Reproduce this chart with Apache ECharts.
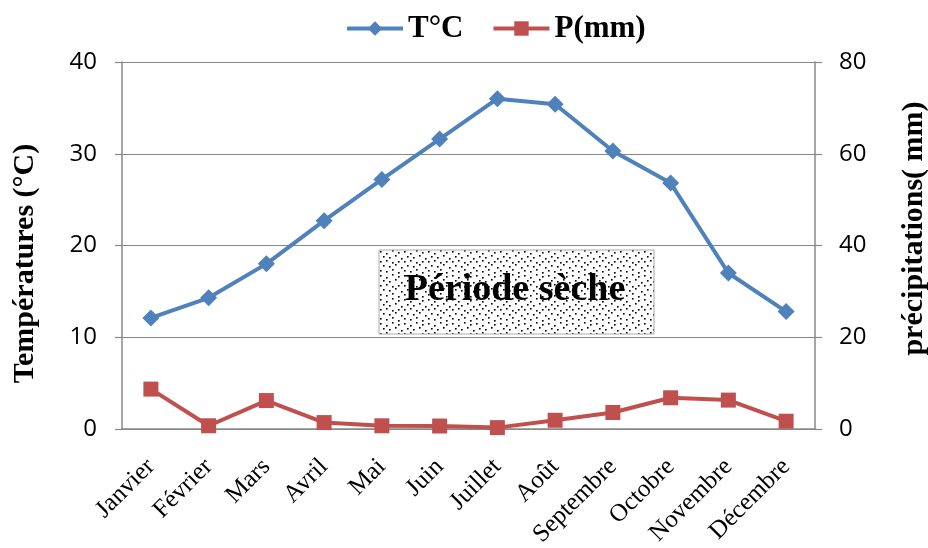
<!DOCTYPE html>
<html><head><meta charset="utf-8">
<script src="https://cdn.jsdelivr.net/npm/echarts@6/dist/echarts.min.js"></script>
<style>html,body{margin:0;padding:0;background:#fff}#c{width:928px;height:548px}</style>
</head><body><div id="c"></div>
<script>
const months = ['Janvier','Février','Mars','Avril','Mai','Juin','Juillet','Août','Septembre','Octobre','Novembre','Décembre'];
const temperature = [12.1, 14.3, 18.0, 22.7, 27.2, 31.6, 36.0, 35.4, 30.3, 26.8, 17.0, 12.8];
const precipitation = [8.7, 0.7, 6.2, 1.4, 0.7, 0.65, 0.3, 1.9, 3.6, 6.8, 6.3, 1.7];
const leftTicks = [0, 10, 20, 30, 40];
const rightTicks = [0, 20, 40, 60, 80];

// dotted pattern for the "Période sèche" box
const pc = document.createElement('canvas');
pc.width = 24; pc.height = 24;
const pctx = pc.getContext('2d');
pctx.fillStyle = '#fff'; pctx.fillRect(0,0,24,24);
pctx.fillStyle = '#000';
const dots = [[1,1],[7,3],[13,0],[19,2],[4,6],[10,7],[16,5],[22,8],[1,11],[7,10],[13,12],[19,11],[4,15],[10,16],[16,14],[22,17],[1,20],[7,21],[13,19],[19,22]];
dots.forEach(d => pctx.fillRect(d[0], d[1], 1.6, 1.6));

const chart = echarts.init(document.getElementById('c'), null, {renderer:'canvas'});
chart.setOption({
  animation: false,
  backgroundColor: '#fff',
  legend: {
    top: 8, left: 340, itemGap: 28, itemWidth: 56, itemHeight: 18,
    lineStyle: {width: 4},
    textStyle: {fontFamily: 'Liberation Serif', fontWeight: 'bold', fontSize: 31, color: '#000'},
    data: [{name:'T°C'}, {name:'P(mm)'}]
  },
  grid: {left: 122, right: 113, top: 62, bottom: 119, containLabel: false, outerBoundsMode: 'none'},
  xAxis: {
    type: 'category', data: months, boundaryGap: true,
    axisLine: {lineStyle: {color: '#888', width: 1.5}},
    axisTick: {show: false},
    axisLabel: {rotate: 45, fontFamily: 'Liberation Serif', fontSize: 25, color: '#000', margin: 34, interval: 0}
  },
  yAxis: [{
    type: 'value', min: 0, max: 40, interval: 10, position: 'left',
    name: 'Températures (°C)', nameLocation: 'middle', nameGap: 82, nameRotate: 90,
    nameTextStyle: {fontFamily: 'Liberation Serif', fontWeight: 'bold', fontSize: 30, color: '#000', padding: [0, 36, 0, 0]},
    axisLine: {show: true, lineStyle: {color: '#888', width: 1.5}},
    axisTick: {show: true, inside: false, length: 7, lineStyle: {color: '#888', width: 1.2}},
    splitLine: {lineStyle: {color: '#888', width: 1.2}},
    axisLabel: {fontFamily: 'Open Sans', fontSize: 24, color: '#000', margin: 25,
      formatter: v => leftTicks.includes(v) ? String(v) : ''}
  }, {
    type: 'value', min: 0, max: 80, interval: 20, position: 'right',
    name: 'précipitations( mm)', nameLocation: 'middle', nameGap: 84, nameRotate: 90,
    nameTextStyle: {fontFamily: 'Liberation Serif', fontWeight: 'bold', fontSize: 30, color: '#000', padding: [0, 0, 0, 34]},
    axisLine: {show: true, lineStyle: {color: '#888', width: 1.5}},
    axisTick: {show: true, inside: false, length: 7, lineStyle: {color: '#888', width: 1.2}},
    splitLine: {show: false},
    axisLabel: {fontFamily: 'Open Sans', fontSize: 24, color: '#000', margin: 24,
      formatter: v => rightTicks.includes(v) ? String(v) : ''}
  }],
  series: [{
    name: 'T°C', type: 'line', yAxisIndex: 0, data: temperature,
    symbol: 'diamond', symbolSize: 17,
    lineStyle: {color: '#4F81BD', width: 4}, itemStyle: {color: '#4F81BD'}
  }, {
    name: 'P(mm)', type: 'line', yAxisIndex: 1, data: precipitation,
    symbol: 'rect', symbolSize: 15,
    lineStyle: {color: '#C0504D', width: 4}, itemStyle: {color: '#C0504D'}
  }],
  graphic: [{
    type: 'rect', x: 379, y: 250, z: 100,
    shape: {x: 0, y: 0, width: 275, height: 84},
    style: {fill: {image: pc, repeat: 'repeat'}, stroke: '#aaa', lineWidth: 1}
  }, {
    type: 'text', x: 515, y: 290, z: 101,
    style: {text: 'Période sèche', fontFamily: 'Liberation Serif', fontWeight: 'bold', fontSize: 38,
      fill: '#000', align: 'center', verticalAlign: 'middle'}
  }]
});
</script></body></html>
